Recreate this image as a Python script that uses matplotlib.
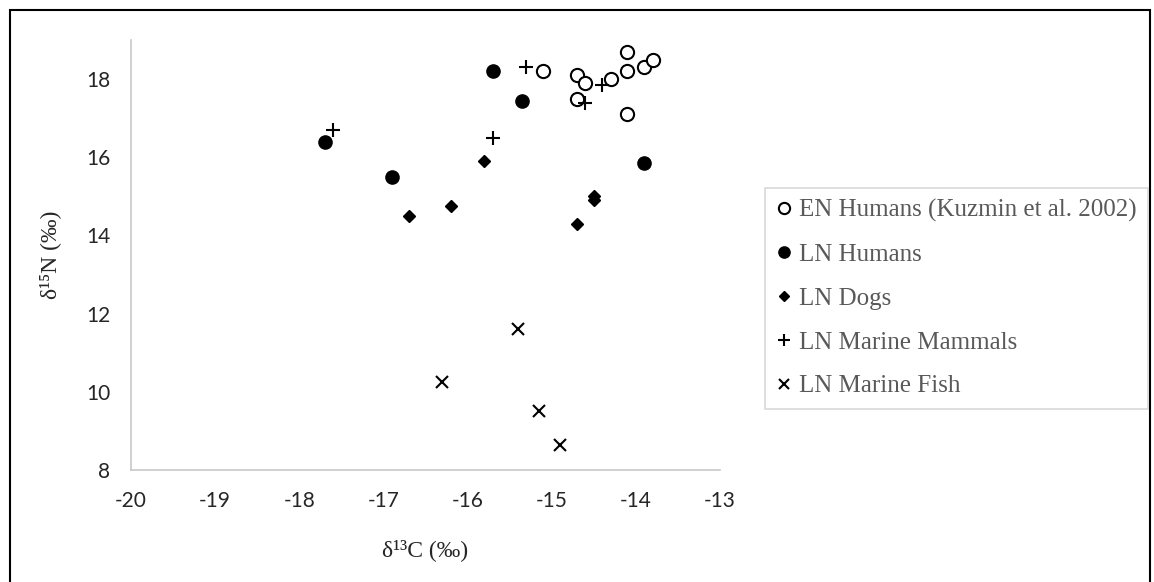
import matplotlib.pyplot as plt
from matplotlib.patches import Rectangle

# data (d13C, d15N)
en_humans_x = [-15.1, -14.7, -14.6, -14.7, -14.3, -14.1, -14.1, -13.9, -13.8, -14.1]
en_humans_y = [18.2, 18.1, 17.9, 17.5, 18.0, 18.7, 18.2, 18.3, 18.5, 17.1]
ln_humans_x = [-15.7, -15.35, -17.7, -16.9, -13.9]
ln_humans_y = [18.2, 17.45, 16.4, 15.5, 15.85]
ln_dogs_x = [-15.8, -16.7, -16.2, -14.5, -14.5, -14.7]
ln_dogs_y = [15.9, 14.5, 14.75, 15.0, 14.9, 14.3]
ln_mammals_x = [-15.3, -17.6, -15.7, -14.4, -14.6]
ln_mammals_y = [18.3, 16.7, 16.5, 17.85, 17.4]
ln_fish_x = [-15.4, -16.3, -15.15, -14.9]
ln_fish_y = [11.6, 10.25, 9.5, 8.65]

labels = ['EN Humans (Kuzmin et al. 2002)', 'LN Humans', 'LN Dogs',
          'LN Marine Mammals', 'LN Marine Fish']
x_ticks = [-20, -19, -18, -17, -16, -15, -14, -13]
y_ticks = [8, 10, 12, 14, 16, 18]

plt.rcParams['axes.unicode_minus'] = False

W, H = 1154, 582
fig = plt.figure(figsize=(W / 100, H / 100), dpi=100)
ax = fig.add_axes([131 / W, (H - 470) / H, 589 / W, 430 / H])

ax.plot(en_humans_x, en_humans_y, 'o', ms=9.5, mfc='white', mec='black', mew=1.5,
        ls='none', label=labels[0])
ax.plot(ln_humans_x, ln_humans_y, 'o', ms=9.5, color='black', ls='none', label=labels[1])
ax.plot(ln_dogs_x, ln_dogs_y, 'D', ms=6.5, color='black', ls='none', label=labels[2])
ax.plot(ln_mammals_x, ln_mammals_y, '+', ms=10, mew=1.5, color='black', ls='none',
        label=labels[3])
ax.plot(ln_fish_x, ln_fish_y, 'x', ms=9, mew=1.5, color='black', ls='none',
        label=labels[4])

ax.set_xlim(-20, -13)
ax.set_ylim(8, 19)
ax.set_xticks(x_ticks)
ax.set_yticks(y_ticks)
ax.tick_params(length=0, pad=15, labelsize=15, labelcolor='#262626')
for lab in ax.get_xticklabels() + ax.get_yticklabels():
    lab.set_family('Lato')

for s in ['top', 'right']:
    ax.spines[s].set_visible(False)
for s in ['left', 'bottom']:
    ax.spines[s].set_color('#c8c8c8')
    ax.spines[s].set_linewidth(1.2)

serif = ['Liberation Serif', 'DejaVu Serif']
ax.set_xlabel('δ¹³C (‰)', fontsize=17, family=serif, color='#262626', labelpad=20)
ax.set_ylabel('δ¹⁵N (‰)', fontsize=17, family=serif, color='#262626', labelpad=18)

leg = fig.legend(loc='upper left', bbox_to_anchor=(765 / W, 1 - 188 / H),
                 frameon=True, fancybox=False, edgecolor='#d0d0d0',
                 prop={'family': serif, 'size': 18}, handlelength=0.6,
                 handletextpad=0.3, labelspacing=0.85, borderpad=0.45,
                 borderaxespad=0, markerscale=0.85)
leg.get_frame().set_linewidth(1.2)
for t in leg.get_texts():
    t.set_color('#595959')

# outer chart border (bottom edge falls outside the picture)
fig.add_artist(Rectangle((10 / W, -0.05), 1140 / W, 1.05 - 10 / H,
                         transform=fig.transFigure, fill=False, ec='black', lw=1.5))

plt.savefig('out.png', dpi=100)
